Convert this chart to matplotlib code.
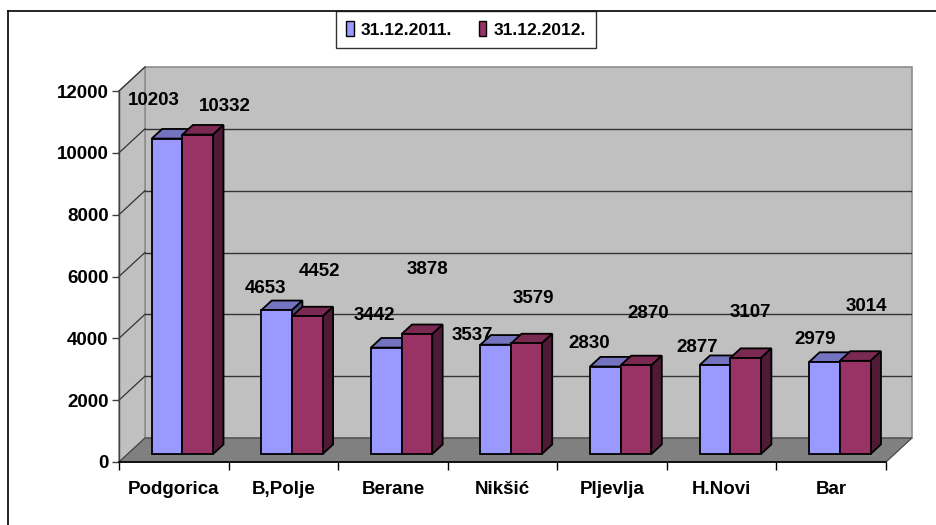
import matplotlib
matplotlib.use("Agg")
import matplotlib.pyplot as plt
from matplotlib.patches import Polygon, Patch
from matplotlib.lines import Line2D

# ---- data ----
categories = ["Podgorica", "B,Polje", "Berane", "Nikšić", "Pljevlja", "H.Novi", "Bar"]
series_names = ["31.12.2011.", "31.12.2012."]
values_2011 = [10203, 4653, 3442, 3537, 2830, 2877, 2979]
values_2012 = [10332, 4452, 3878, 3579, 2870, 3107, 3014]
yticks = [0, 2000, 4000, 6000, 8000, 10000, 12000]

# ---- layout / style (label offsets in pixels, relative to bar top centre) ----
label_dx = [[-13, -11, -12, -23, -16, -18, -9], [27, 12, 11, 7, 12, 5, 11]]
label_dy = [[38, 22, 32, 9, 23, 18, 22], [28, 45, 65, 45, 52, 45, 54]]

front_col = ["#9999FF", "#993366"]
top_col = ["#7373BF", "#7A2952"]
side_col = ["#4D4D80", "#4F1A35"]
wall_col = "#C0C0C0"
floor_col = "#808080"

plt.rcParams['font.family'] = ['Liberation Sans', 'DejaVu Sans']
plt.rcParams['font.weight'] = 'bold'
FS = 13.5

W, H = 937, 525
fig = plt.figure(figsize=(W / 100, H / 100), dpi=100)
fig.patch.set_facecolor("white")

ymax = yticks[-1]
n = len(categories)
px_per_cat = (887 - 119) / n
px_per_val = (462 - 91) / ymax
Dx = 26 / px_per_cat      # depth offset in category units
Dy = 24 / px_per_val      # depth offset in value units

ax = fig.add_axes([119 / W, (H - 462) / H, (912 - 119) / W, (462 - 67) / H])
ax.set_xlim(0, n + Dx)
ax.set_ylim(0, ymax + Dy)
ax.patch.set_visible(False)

# walls
back = Polygon([(Dx, Dy), (n + Dx, Dy), (n + Dx, ymax + Dy), (Dx, ymax + Dy)],
               closed=True, fc=wall_col, ec="#8C8C8C", lw=1.2, zorder=0, clip_on=False)
left = Polygon([(0, 0), (Dx, Dy), (Dx, ymax + Dy), (0, ymax)],
               closed=True, fc=wall_col, ec="#8C8C8C", lw=1.0, zorder=0, clip_on=False)
floor = Polygon([(0, 0), (n, 0), (n + Dx, Dy), (Dx, Dy)],
                closed=True, fc=floor_col, ec="#404040", lw=0.8, zorder=1, clip_on=False)
ax.add_patch(back)
ax.add_patch(left)
ax.add_patch(floor)

# gridlines
for v in yticks[1:-1]:
    ax.plot([Dx, n + Dx], [v + Dy, v + Dy], color="#333333", lw=1.0, zorder=0.5)
for v in yticks[1:]:
    ax.plot([0, Dx], [v, v + Dy], color="#333333", lw=0.9, zorder=0.5, clip_on=False)

# bars
w = 0.28
f0, f1 = 0.333, 0.733
dd = f1 - f0
series = [values_2011, values_2012]
for i in range(n):
    for s in range(2):
        v = series[s][i]
        x0 = i + (1 - 2 * w) / 2 + s * w + f0 * Dx
        x1 = x0 + w
        yb = f0 * Dy
        yt = v + f0 * Dy
        top = Polygon([(x0, yt), (x1, yt), (x1 + dd * Dx, yt + dd * Dy), (x0 + dd * Dx, yt + dd * Dy)],
                      closed=True, fc=top_col[s], ec="black", lw=1.3, zorder=3 + i + s * 0.5,
                      clip_on=False)
        side = Polygon([(x1, yb), (x1, yt), (x1 + dd * Dx, yt + dd * Dy), (x1 + dd * Dx, yb + dd * Dy)],
                       closed=True, fc=side_col[s], ec="black", lw=1.3, zorder=3 + i + s * 0.5,
                       clip_on=False)
        ax.add_patch(top)
        ax.add_patch(side)
        ax.bar(x0, v, width=w, bottom=yb, align="edge", color=front_col[s], edgecolor="black",
               lw=1.3, zorder=3.1 + i + s * 0.5, clip_on=False)
        ax.annotate(str(v), xy=(x0 + w / 2, yt), xytext=(label_dx[s][i], label_dy[s][i]),
                    textcoords="offset pixels", ha="center", va="center",
                    fontsize=FS, fontweight="bold", zorder=20, annotation_clip=False)

# axes / ticks
for sp in ["top", "right"]:
    ax.spines[sp].set_visible(False)
ax.spines["left"].set_bounds(0, ymax)
ax.spines["left"].set_color("#404040")
ax.spines["left"].set_linewidth(1.0)
ax.spines["bottom"].set_bounds(0, n)
ax.spines["bottom"].set_color("black")
ax.spines["bottom"].set_linewidth(1.2)
ax.spines["left"].set_zorder(2)
ax.spines["bottom"].set_zorder(2)

ax.set_yticks(yticks)
ax.set_yticklabels([str(t) for t in yticks], fontsize=FS, fontweight="bold")
ax.tick_params(axis="y", direction="out", length=5, width=1, pad=2.5, color="#404040")

ax.set_xticks(range(n + 1))
ax.set_xticklabels([""] * (n + 1))
ax.set_xticks([i + 0.5 for i in range(n)], minor=True)
ax.set_xticklabels(categories, minor=True, fontsize=FS, fontweight="bold")
ax.tick_params(axis="x", which="major", direction="out", length=6, width=1, color="black")
ax.tick_params(axis="x", which="minor", length=0, pad=14)

# outer frame (left and top lines)
fig.add_artist(Line2D([8 / W, 8 / W], [0, 1 - 11 / H], transform=fig.transFigure,
                      color="black", lw=1.2))
fig.add_artist(Line2D([8 / W, 1], [1 - 11 / H, 1 - 11 / H], transform=fig.transFigure,
                      color="black", lw=1.2))

# legend
handles = [Patch(fc=front_col[k], ec="black", lw=1.0, label=series_names[k]) for k in range(2)]
leg = fig.legend(handles=handles, loc="upper center", bbox_to_anchor=(466 / W, 1 - 11 / H),
                 ncol=2, frameon=True, fancybox=False, edgecolor="black",
                 handlelength=0.45, handleheight=0.95, handletextpad=0.4, columnspacing=1.5,
                 borderpad=0.6, borderaxespad=0,
                 prop={"size": 12.5, "weight": "bold", "family": ["Liberation Sans", "DejaVu Sans"]})
leg.get_frame().set_linewidth(1.0)

fig.savefig("out.png", dpi=100, facecolor="white")
